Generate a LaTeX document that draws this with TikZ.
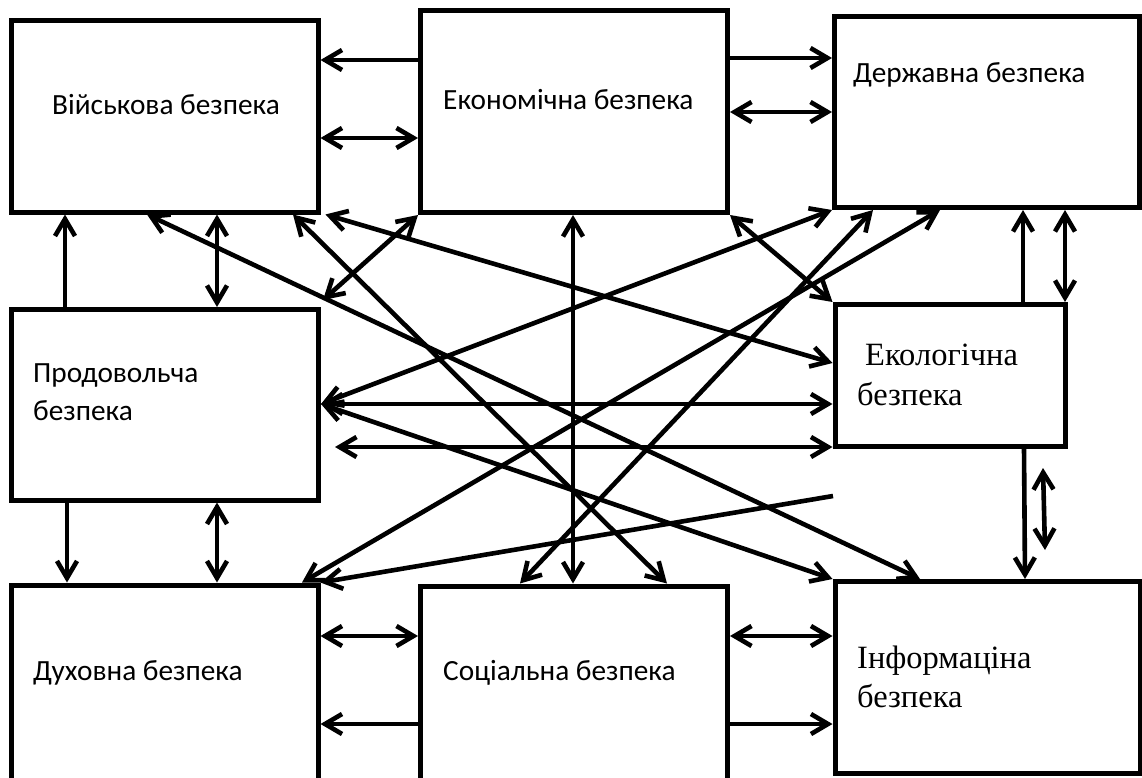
\documentclass[tikz,border=0pt]{standalone}
\usepackage{fontspec}
\usetikzlibrary{arrows.meta}
\newfontfamily\calib{Carlito}
\newfontfamily\tnr{Liberation Serif}
\begin{document}
\begin{tikzpicture}[x=1pt,y=-1pt,
  box/.style={draw, line width=5pt, inner sep=0pt, fill=white},
  con/.style={line width=4.6pt},
  both/.style={con, <->},
  fwd/.style={con, ->},
  >={Straight Barb[length=17pt,width=20pt]},
  lbl/.style={inner sep=0pt, anchor=base west, font=\calib\fontsize{29.3}{35}\selectfont},
  lbls/.style={inner sep=0pt, anchor=base west, font=\tnr\fontsize{32.5}{38}\selectfont}]
\fill[white] (0,0) rectangle (1142,778);
\useasboundingbox (0,0) rectangle (1142,778);
% boxes
\node[box, minimum width=307pt, minimum height=191pt] (M) at (164.5,116.5) {};
\node[box, minimum width=307pt, minimum height=201.5pt] (E) at (574,111.75) {};
\node[box, minimum width=304.5pt, minimum height=190.5pt] (D) at (986.75,112.25) {};
\node[box, minimum width=307.5pt, minimum height=190.5pt] (P) at (164.75,404.75) {};
\node[box, minimum width=230pt, minimum height=142pt] (Ek) at (950,375.5) {};
\node[box, minimum width=307pt, minimum height=207pt] (Du) at (164.5,688.5) {};
\node[box, minimum width=307pt, minimum height=206pt] (S) at (574,689) {};
\node[box, minimum width=305pt, minimum height=192pt] (I) at (987.5,677.5) {};
% labels
\node[lbl] (tM) at (52,115) {Військова безпека};
\node[lbl] (tE) at (443,110) {Економічна безпека};
\node[lbl] (tD) at (853,83) {Державна безпека};
\node[lbl] (tP1) at (33,382) {Продовольча};
\node[lbl] (tP2) at (33,420) {безпека};
\node[lbls] (tEk1) at (865,365) {Екологічна};
\node[lbls] (tEk2) at (857,405) {безпека};
\node[lbl] (tDu) at (33,680) {Духовна безпека};
\node[lbl] (tS) at (443,680) {Соціальна безпека};
\node[lbls] (tI1) at (857,668) {Інформаціна};
\node[lbls] (tI2) at (857,707) {безпека};
% free ends
\coordinate (c16) at (335,447);
\coordinate (c21) at (833,496);
\coordinate (c25a) at (1043,468);
\coordinate (c25b) at (1045,550);
% connectors
\draw[fwd] (E.west |- 0,60) -- (M.east |- 0,60);
\draw[both] (M.east |- 0,138) -- (E.west |- 0,138);
\draw[fwd] (E.east |- 0,58) -- (D.west |- 0,58);
\draw[both] (E.east |- 0,112) -- (D.west |- 0,112);
\draw[fwd] (65,0 |- P.north) -- (65,0 |- M.south);
\draw[both] (217,0 |- M.south) -- (217,0 |- P.north);
\draw[fwd] (67,0 |- P.south) -- (67,0 |- Du.north);
\draw[both] (217,0 |- P.south) -- (217,0 |- Du.north);
\draw[both] (E.south west) -- ([xshift=2pt,yshift=7pt]P.north east);
\draw[both] (147,0 |- M.south) -- (920,0 |- I.north);
\draw[both] (293,0 |- M.south) -- (667,0 |- S.north);
\draw[both] ([xshift=5pt]M.south east) -- (Ek.west |- 0,363);
\draw[both] (E.south east) -- (Ek.north west);
\draw[both] (573,0 |- E.south) -- (573,0 |- S.north);
\draw[both] (P.east |- 0,404) -- (Ek.west |- 0,404);
\draw[both] (c16) -- (Ek.west |- c16);
\draw[both] (P.east |- 0,404) -- (I.north west);
\draw[both] (P.east |- 0,404) -- (D.south west);
\draw[both] (302,0 |- Du.north) -- (940,0 |- D.south);
\draw[both] (520,0 |- S.north) -- (873,0 |- D.south);
\draw[fwd] (c21) -- (Du.north east);
\draw[fwd] (1023,0 |- Ek.north) -- (1023,0 |- D.south);
\draw[both] (1065,0 |- Ek.north) -- (1065,0 |- D.south);
\draw[fwd] (1024,0 |- Ek.south) -- (1025,0 |- I.north);
\draw[both] (c25a) -- (c25b);
\draw[both] (Du.east |- 0,636) -- (S.west |- 0,636);
\draw[fwd] (S.west |- 0,724) -- (Du.east |- 0,724);
\draw[both] (S.east |- 0,636) -- (I.west |- 0,636);
\draw[fwd] (S.east |- 0,724) -- (I.west |- 0,724);
\end{tikzpicture}
\end{document}
